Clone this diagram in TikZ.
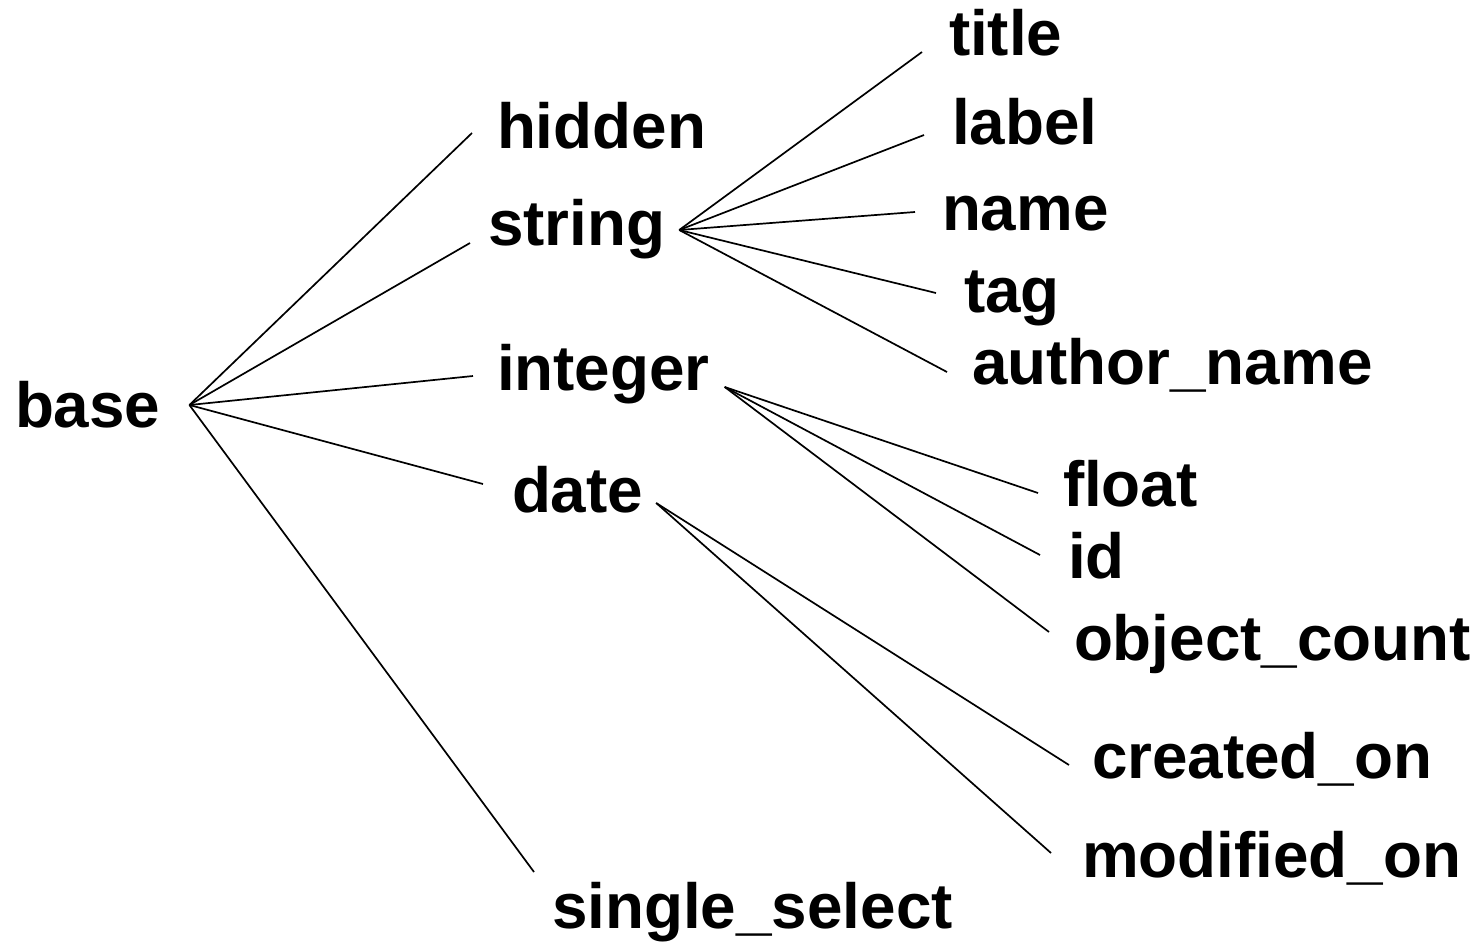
\documentclass[tikz,border=0pt]{standalone}
\usepackage{fontspec}
\setmainfont{Liberation Sans}
\usepackage{tikz}
\tikzstyle{word} = [inner sep=0pt, outer sep=0pt, anchor=base west, font=\fontsize{63.8}{70}\selectfont\bfseries]
\tikzstyle{line} = [draw, line width=1.7pt]

\begin{document}
\begin{tikzpicture}[x=1pt, y=1pt]
        \useasboundingbox (0,0) rectangle (1479,-945);
        % first level
        \node[word] (base) at (15,-427) {base};
        \node[word] (hidden) at (497,-148) {hidden};
        \node[word] (string) at (488,-245) {string};
        \node[word] (integer) at (497,-390) {integer};
        \node[word] (date) at (512,-512) {date};
        \node[word] (select) at (552,-928) {single\_select};
        % string types
        \node[word] (title) at (949,-55) {title};
        \node[word] (label) at (952,-144) {label};
        \node[word] (name) at (942,-230) {name};
        \node[word] (tag) at (964,-312) {tag};
        \node[word] (author) at (972,-384) {author\_name};
        % integer types
        \node[word] (float) at (1063,-506) {float};
        \node[word] (id) at (1068,-578) {id};
        \node[word] (count) at (1074,-660) {object\_count};
        % date types
        \node[word] (created) at (1092,-778) {created\_on};
        \node[word] (modified) at (1082,-877) {modified\_on};
        % fan points
        \coordinate (base-fan) at ([shift={(29,22)}]base.base east);
        \coordinate (string-fan) at ([shift={(14,15)}]string.base east);
        \coordinate (integer-fan) at ([shift={(15,3)}]integer.base east);
        \coordinate (date-fan) at ([shift={(13,9)}]date.base east);
        \path[line] (base-fan) -- ([shift={(-25,15)}]hidden.base west);
        \path[line] (base-fan) -- ([shift={(-18,2)}]string.base west);
        \path[line] (base-fan) -- ([shift={(-24,14)}]integer.base west);
        \path[line] (base-fan) -- ([shift={(-29,28)}]date.base west);
        \path[line] (base-fan) -- ([shift={(-18,56)}]select.base west);
        \path[line] (string-fan) -- ([shift={(-27,3)}]title.base west);
        \path[line] (string-fan) -- ([shift={(-28,9)}]label.base west);
        \path[line] (string-fan) -- ([shift={(-27,18)}]name.base west);
        \path[line] (string-fan) -- ([shift={(-28,19)}]tag.base west);
        \path[line] (string-fan) -- ([shift={(-25,12)}]author.base west);
        \path[line] (integer-fan) -- ([shift={(-25,13)}]float.base west);
        \path[line] (integer-fan) -- ([shift={(-28,23)}]id.base west);
        \path[line] (integer-fan) -- ([shift={(-25,28)}]count.base west);
        \path[line] (date-fan) -- ([shift={(-23,13)}]created.base west);
        \path[line] (date-fan) -- ([shift={(-31,24)}]modified.base west);
    \end{tikzpicture}
\end{document}
